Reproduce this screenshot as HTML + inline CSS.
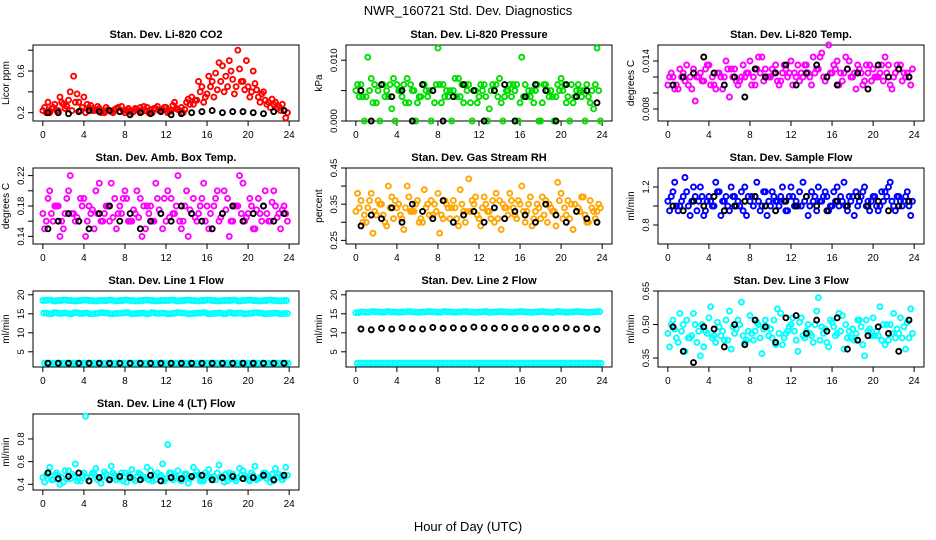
<!DOCTYPE html>
<html><head><meta charset="utf-8"><style>
body{margin:0;background:#fff}
svg{display:block;font-family:"Liberation Sans",sans-serif}
</style></head><body>
<svg id="chart" width="936" height="540" viewBox="0 0 936 540">
<text x="468" y="15" text-anchor="middle" font-size="13">NWR_160721 Std. Dev. Diagnostics</text>
<text x="468" y="531" text-anchor="middle" font-size="13">Hour of Day (UTC)</text>
</svg>
<script>
const xTicks = [0,4,8,12,16,20,24];
const titles = ["Stan. Dev. Li-820 CO2","Stan. Dev. Li-820 Pressure","Stan. Dev. Li-820 Temp.","Stan. Dev. Amb. Box Temp.","Stan. Dev. Gas Stream RH","Stan. Dev. Sample Flow","Stan. Dev. Line 1 Flow","Stan. Dev. Line 2 Flow","Stan. Dev. Line 3 Flow","Stan. Dev. Line 4 (LT) Flow"];
const yLabels = ["Licor ppm","kPa","degrees C","degrees C","percent","ml/min","ml/min","ml/min","ml/min","ml/min"];
const yRanges = [[0.12,0.85],[0,0.0125],[0.0065,0.016],[0.13,0.23],[0.24,0.45],[0.6,1.4],[1,21],[1,21],[0.31,0.65],[0.35,1.02]];
const yTicks = [[0.2,0.4,0.6,0.8],[0,0.005,0.01],[0.008,0.010,0.012,0.014],[0.14,0.16,0.18,0.20,0.22],[0.25,0.30,0.35,0.40,0.45],[0.8,1.0,1.2],[5,10,15,20],[5,10,15,20],[0.35,0.50,0.65],[0.4,0.6,0.8]];
const yTickLabels = [["0.2","","0.6",""],["0.000","","0.010"],["0.008","","","0.014"],["0.14","","0.18","","0.22"],["0.25","","0.35","","0.45"],["0.8","","1.2"],["5","10","15","20"],["5","10","15","20"],["0.35","0.50","0.65"],["0.4","0.6","0.8"]];
const colors = ["#ff0000","#00dd00","#ff00ff","#ff00ff","#ffa500","#0000ff","#00ffff","#00ffff","#00ffff","#00ffff"];
// colored series (every 0.5 h)
const co2 = [0.22,0.3,0.25,0.22,0.28,0.32,0.55,0.3,0.35,0.25,0.22,0.24,0.2,0.22,0.23,0.21,0.2,0.22,0.24,0.25,0.22,0.23,0.24,0.22,0.25,0.22,0.24,0.25,0.3,0.35,0.32,0.45,0.38,0.5,0.42,0.65,0.45,0.52,0.8,0.5,0.45,0.6,0.35,0.4,0.3,0.28,0.26,0.22];
const co2b = [0.25,0.2,0.28,0.35,0.24,0.4,0.3,0.22,0.2,0.27,0.23,0.2,0.25,0.21,0.24,0.26,0.22,0.2,0.23,0.21,0.25,0.2,0.26,0.23,0.2,0.27,0.23,0.2,0.33,0.28,0.5,0.3,0.55,0.35,0.68,0.4,0.7,0.38,0.62,0.42,0.35,0.48,0.3,0.32,0.25,0.3,0.22,0.15];
const co2c = [0.2,0.24,0.22,0.3,0.26,0.22,0.38,0.25,0.28,0.22,0.26,0.21,0.23,0.2,0.25,0.22,0.24,0.21,0.22,0.26,0.2,0.24,0.22,0.25,0.21,0.3,0.22,0.23,0.28,0.32,0.4,0.35,0.45,0.58,0.5,0.55,0.6,0.45,0.5,0.7,0.4,0.42,0.38,0.28,0.33,0.24,0.28,0.2];
const pres = [0.005,0.006,0.004,0.007,0.003,0.006,0.005,0.002,0.006,0.004,0.007,0.005,0.003,0.006,0.004,0.005,0.012,0.006,0.004,0.005,0.007,0.003,0.006,0.005,0.004,0.006,0.002,0.005,0.007,0.004,0.006,0.005,0.003,0.006,0.004,0.005,0.0,0.006,0.005,0.004,0.007,0.003,0.006,0.005,0.004,0.006,0.005,0.012];
const presb = [0.006,0.004,0.0105,0.003,0.005,0.006,0.004,0.007,0.005,0.006,0.003,0.005,0.004,0.006,0.005,0.003,0.006,0.004,0.005,0.007,0.004,0.006,0.003,0.005,0.006,0.004,0.005,0.006,0.003,0.005,0.004,0.006,0.0105,0.004,0.005,0.006,0.003,0.005,0.004,0.006,0.005,0.004,0.003,0.006,0.005,0.004,0.002,0.005];
const presc = [0.004,0.0,0.005,0.006,0.0,0.004,0.006,0.0,0.005,0.003,0.006,0.0,0.004,0.005,0.0,0.006,0.003,0.005,0.0,0.004,0.006,0.005,0.0,0.003,0.005,0.0,0.006,0.004,0.0,0.005,0.006,0.0,0.004,0.005,0.003,0.0,0.006,0.004,0.0,0.005,0.006,0.0,0.004,0.005,0.0,0.003,0.006,0.0];
const ltemp = [0.011,0.012,0.0105,0.0125,0.011,0.013,0.012,0.0115,0.0135,0.011,0.0125,0.012,0.0095,0.013,0.0115,0.012,0.014,0.011,0.0125,0.013,0.012,0.0135,0.0115,0.013,0.014,0.012,0.0125,0.0135,0.011,0.013,0.015,0.012,0.0125,0.014,0.0115,0.013,0.012,0.0135,0.011,0.0125,0.013,0.012,0.0115,0.0135,0.012,0.013,0.0125,0.012];
const ltempb = [0.012,0.0105,0.013,0.0115,0.012,0.009,0.0125,0.013,0.011,0.0105,0.012,0.014,0.013,0.0115,0.012,0.0125,0.011,0.013,0.0145,0.012,0.013,0.0115,0.0125,0.012,0.011,0.0135,0.012,0.0125,0.0145,0.013,0.012,0.016,0.0135,0.011,0.0125,0.014,0.0125,0.013,0.0115,0.0135,0.012,0.0125,0.0145,0.011,0.0125,0.0135,0.012,0.011];
const ltempc = [0.0125,0.011,0.012,0.0135,0.0105,0.012,0.0115,0.0135,0.012,0.0125,0.0105,0.013,0.012,0.011,0.0135,0.0125,0.012,0.0145,0.0115,0.012,0.0125,0.011,0.0135,0.0125,0.0125,0.0115,0.0135,0.012,0.0125,0.0145,0.0115,0.0125,0.013,0.0125,0.0145,0.012,0.0105,0.0125,0.0135,0.0115,0.012,0.0135,0.0125,0.0105,0.0135,0.0115,0.0125,0.013];
const amb = [0.17,0.19,0.16,0.18,0.15,0.2,0.17,0.16,0.19,0.18,0.15,0.21,0.17,0.16,0.19,0.18,0.2,0.16,0.17,0.19,0.15,0.18,0.21,0.17,0.16,0.19,0.18,0.15,0.2,0.17,0.16,0.19,0.18,0.15,0.2,0.17,0.19,0.16,0.18,0.21,0.17,0.15,0.19,0.18,0.16,0.2,0.17,0.18];
const ambb = [0.15,0.2,0.18,0.14,0.17,0.22,0.16,0.19,0.14,0.17,0.2,0.16,0.18,0.21,0.15,0.17,0.19,0.16,0.2,0.14,0.18,0.16,0.19,0.15,0.2,0.17,0.22,0.16,0.14,0.19,0.17,0.21,0.15,0.18,0.16,0.2,0.14,0.18,0.22,0.16,0.19,0.15,0.17,0.2,0.16,0.18,0.15,0.17];
const ambc = [0.16,0.17,0.18,0.16,0.19,0.17,0.165,0.18,0.16,0.175,0.17,0.16,0.18,0.165,0.17,0.19,0.16,0.175,0.165,0.18,0.17,0.16,0.175,0.19,0.165,0.17,0.16,0.18,0.175,0.165,0.18,0.16,0.17,0.19,0.165,0.175,0.16,0.18,0.17,0.165,0.18,0.175,0.16,0.17,0.185,0.165,0.175,0.16];
const rh = [0.33,0.36,0.3,0.38,0.32,0.35,0.29,0.37,0.34,0.31,0.4,0.33,0.36,0.3,0.35,0.32,0.38,0.31,0.34,0.36,0.29,0.33,0.42,0.35,0.31,0.37,0.33,0.3,0.36,0.34,0.38,0.32,0.35,0.3,0.37,0.33,0.31,0.36,0.34,0.29,0.38,0.32,0.35,0.33,0.37,0.3,0.34,0.33];
const rhb = [0.38,0.3,0.34,0.27,0.36,0.32,0.4,0.31,0.35,0.28,0.37,0.33,0.3,0.39,0.32,0.35,0.27,0.36,0.31,0.34,0.39,0.3,0.33,0.37,0.29,0.35,0.31,0.38,0.28,0.34,0.36,0.31,0.4,0.33,0.29,0.35,0.37,0.3,0.33,0.41,0.31,0.36,0.28,0.34,0.37,0.3,0.33,0.35];
const rhc = [0.34,0.32,0.36,0.33,0.35,0.3,0.34,0.36,0.32,0.34,0.33,0.35,0.31,0.34,0.36,0.33,0.32,0.35,0.34,0.31,0.35,0.33,0.36,0.32,0.34,0.33,0.36,0.31,0.35,0.32,0.34,0.36,0.33,0.35,0.31,0.34,0.32,0.35,0.33,0.36,0.34,0.31,0.35,0.33,0.32,0.36,0.31,0.34];
const flow = [1.05,1.15,0.95,1.1,1.0,1.2,1.05,0.9,1.1,1.0,1.15,1.05,0.95,1.1,1.0,1.2,1.05,1.1,0.95,1.15,1.0,1.05,1.1,0.95,1.2,1.05,1.0,1.1,1.15,0.95,1.05,1.1,1.0,1.2,1.05,0.95,1.1,1.0,1.15,1.05,1.1,0.95,1.05,1.2,1.0,1.1,1.05,1.0];
const flowb = [0.95,1.25,1.0,1.3,0.9,1.1,1.2,0.95,1.05,1.25,0.9,1.1,1.2,1.0,1.15,0.9,1.1,1.25,1.0,0.9,1.15,1.05,1.2,0.95,1.1,1.0,1.25,0.9,1.05,1.2,1.1,0.95,1.15,1.0,1.25,1.1,0.9,1.05,1.2,0.95,1.1,1.0,1.15,1.25,0.95,1.05,1.1,0.9];
const flowc = [1.1,1.0,1.05,1.15,1.05,0.95,1.1,1.05,1.0,1.15,1.05,1.0,1.1,1.05,0.95,1.1,1.0,1.05,1.15,1.05,1.1,1.0,1.05,1.1,1.0,1.15,1.05,1.0,1.1,1.05,1.15,1.0,1.05,1.1,1.0,1.05,1.15,1.1,1.0,1.05,1.0,1.15,1.1,1.05,1.1,1.0,1.15,1.05];
const l1a = [18.5,18.6,18.4,18.5,18.6,18.5,18.4,18.5,18.6,18.5,18.4,18.5,18.5,18.6,18.4,18.5,18.6,18.5,18.4,18.5,18.6,18.5,18.4,18.5,18.5,18.6,18.4,18.5,18.6,18.5,18.4,18.5,18.6,18.5,18.4,18.5,18.5,18.6,18.4,18.5,18.6,18.5,18.4,18.5,18.6,18.5,18.4,18.5];
const l1b = [15.2,15.0,15.3,15.1,15.2,15.0,15.3,15.1,15.2,15.0,15.1,15.3,15.2,15.0,15.1,15.2,15.3,15.0,15.1,15.2,15.0,15.3,15.1,15.2,15.0,15.1,15.3,15.2,15.0,15.1,15.2,15.3,15.0,15.1,15.2,15.0,15.3,15.1,15.2,15.0,15.1,15.3,15.2,15.0,15.1,15.2,15.0,15.1];
const l1c = [2,2,2,2,2,2,2,2,2,2,2,2,2,2,2,2,2,2,2,2,2,2,2,2,2,2,2,2,2,2,2,2,2,2,2,2,2,2,2,2,2,2,2,2,2,2,2,2];
const l2a = [15.3,15.5,15.4,15.6,15.5,15.4,15.6,15.5,15.4,15.5,15.6,15.5,15.4,15.5,15.6,15.5,15.4,15.6,15.5,15.4,15.5,15.6,15.5,15.4,15.5,15.6,15.4,15.5,15.6,15.5,15.4,15.5,15.6,15.5,15.4,15.5,15.6,15.5,15.4,15.6,15.5,15.4,15.5,15.6,15.5,15.4,15.5,15.6];
const l2b = [2,2,2,2,2,2,2,2,2,2,2,2,2,2,2,2,2,2,2,2,2,2,2,2,2,2,2,2,2,2,2,2,2,2,2,2,2,2,2,2,2,2,2,2,2,2,2,2];
const l3 = [0.46,0.52,0.42,0.5,0.44,0.55,0.47,0.4,0.53,0.45,0.49,0.43,0.56,0.46,0.5,0.42,0.54,0.47,0.44,0.52,0.48,0.41,0.55,0.46,0.5,0.43,0.53,0.47,0.45,0.56,0.49,0.42,0.51,0.46,0.54,0.44,0.48,0.52,0.41,0.47,0.53,0.45,0.5,0.43,0.55,0.46,0.49,0.44];
const l3b = [0.4,0.48,0.55,0.38,0.44,0.5,0.36,0.47,0.58,0.42,0.45,0.52,0.39,0.48,0.6,0.43,0.46,0.51,0.37,0.49,0.44,0.57,0.41,0.47,0.53,0.38,0.45,0.5,0.42,0.62,0.46,0.4,0.49,0.55,0.39,0.47,0.43,0.52,0.36,0.48,0.45,0.58,0.41,0.5,0.44,0.53,0.39,0.57];
const l3c = [0.5,0.44,0.47,0.52,0.45,0.42,0.5,0.46,0.44,0.51,0.47,0.43,0.49,0.52,0.45,0.47,0.43,0.5,0.48,0.45,0.52,0.46,0.44,0.49,0.47,0.51,0.44,0.46,0.5,0.43,0.48,0.52,0.45,0.47,0.5,0.44,0.46,0.49,0.52,0.45,0.47,0.43,0.5,0.46,0.48,0.44,0.51,0.46];
const l4 = [0.46,0.5,0.44,0.48,0.42,0.52,0.47,0.45,0.5,0.43,0.49,0.46,0.51,0.44,0.48,0.45,0.5,0.47,0.43,0.49,0.46,0.52,0.44,0.48,0.45,0.5,0.47,0.43,0.49,0.46,0.51,0.44,0.48,0.45,0.5,0.47,0.43,0.49,0.46,0.52,0.44,0.48,0.45,0.5,0.47,0.43,0.49,0.46];
const l4b = [0.42,0.55,0.48,0.4,0.52,0.45,0.58,0.43,1.0,0.47,0.54,0.41,0.49,0.56,0.44,0.5,0.42,0.53,0.47,0.45,0.55,0.43,0.5,0.58,0.75,0.44,0.52,0.46,0.41,0.55,0.48,0.43,0.53,0.47,0.57,0.42,0.5,0.45,0.54,0.48,0.43,0.56,0.46,0.5,0.42,0.54,0.47,0.55];
const l4c = [0.48,0.44,0.5,0.46,0.45,0.49,0.43,0.48,0.46,0.5,0.44,0.47,0.45,0.5,0.46,0.43,0.48,0.45,0.5,0.46,0.44,0.48,0.47,0.43,0.5,0.46,0.44,0.49,0.45,0.48,0.43,0.5,0.46,0.44,0.47,0.49,0.45,0.43,0.48,0.46,0.5,0.44,0.47,0.45,0.49,0.46,0.44,0.48];
// black series (hourly, at h+0.5)
const k1 = [0.2,0.2,0.19,0.21,0.22,0.21,0.22,0.21,0.18,0.2,0.19,0.21,0.18,0.19,0.2,0.21,0.22,0.2,0.21,0.21,0.2,0.19,0.21,0.22];
const k2 = [0.005,0.0,0.006,0.004,0.005,0.0,0.006,0.005,0.0,0.004,0.006,0.005,0.0,0.005,0.006,0.0,0.004,0.006,0.005,0.0,0.006,0.004,0.005,0.003];
const k3 = [0.011,0.012,0.0125,0.0145,0.0125,0.011,0.012,0.0095,0.013,0.012,0.0125,0.0135,0.011,0.0125,0.0135,0.012,0.011,0.013,0.0125,0.0105,0.0135,0.012,0.013,0.012];
const k4 = [0.15,0.16,0.17,0.16,0.15,0.17,0.18,0.16,0.17,0.15,0.16,0.17,0.16,0.18,0.17,0.16,0.15,0.17,0.18,0.16,0.17,0.18,0.16,0.17];
const k5 = [0.29,0.32,0.31,0.34,0.3,0.35,0.33,0.31,0.36,0.3,0.32,0.33,0.3,0.34,0.31,0.33,0.32,0.3,0.35,0.32,0.3,0.33,0.31,0.3];
const k6 = [1.0,0.95,1.05,1.0,1.1,0.95,1.0,1.05,1.1,1.0,0.95,1.05,1.0,1.1,1.0,0.95,1.05,1.0,1.1,1.0,1.05,0.95,1.0,1.05];
const k7 = [2,2,2,2,2,2,2,2,2,2,2,2,2,2,2,2,2,2,2,2,2,2,2,2];
const k8 = [11,10.8,11.2,11.0,11.3,11.1,11.0,11.4,11.2,11.3,11.1,11.5,11.3,11.2,11.4,11.1,11.3,11.0,11.2,11.1,11.3,11.0,11.2,10.9];
const k9 = [0.49,0.38,0.33,0.49,0.48,0.4,0.5,0.41,0.52,0.49,0.42,0.53,0.54,0.46,0.52,0.47,0.53,0.39,0.43,0.45,0.49,0.46,0.38,0.52];
const k10 = [0.5,0.45,0.47,0.5,0.43,0.46,0.44,0.47,0.46,0.44,0.48,0.43,0.46,0.45,0.47,0.48,0.44,0.46,0.47,0.45,0.46,0.48,0.44,0.48];
const colored = [[co2,co2b,co2c],[pres,presb,presc],[ltemp,ltempb,ltempc],[amb,ambb,ambc],[rh,rhb,rhc],[flow,flowb,flowc],[l1a,l1b,l1c,l1a,l1b,l1c],[l2a,l2b,l2a,l2b],[l3,l3b,l3c],[l4,l4b,l4c]];
const blacks = [k1,k2,k3,k4,k5,k6,k7,k8,k9,k10];

const NS = "http://www.w3.org/2000/svg";
const svg = document.getElementById('chart');
function mk(tag, attrs, parent){const e=document.createElementNS(NS,tag);for(const k in attrs)e.setAttribute(k,attrs[k]);(parent||svg).appendChild(e);return e;}
const colLeft=[33,346,658], plotW=266, rowTop=[45,168,291,414], plotH=76;
for(let p=0;p<10;p++){
  const L=colLeft[p%3], T=rowTop[Math.floor(p/3)];
  const g=mk('g',{});
  
  
  const [y0,y1]=yRanges[p];
  const xs=h=>L+plotW*((h+0.96)/25.92);
  const ys=v=>T+plotH-plotH*((v-y0)/(y1-y0));
  const fr=mk('rect',{x:L,y:T,width:plotW,height:plotH,fill:'none',stroke:'#000','stroke-width':1},g);
  
  
  const t=mk('text',{x:L+plotW/2,y:T-7,'text-anchor':'middle','font-size':11,'font-weight':'bold'},g);
  t.textContent=titles[p];
  
  
  const yl=mk('text',{x:L-24,y:T+plotH/2,'text-anchor':'middle','font-size':10,transform:`rotate(-90 ${L-24} ${T+plotH/2})`},g);
  yl.textContent=yLabels[p];
  
  
  xTicks.forEach(h=>{
    const x=xs(h);
    mk('line',{x1:x,x2:x,y1:T+plotH,y2:T+plotH+5,stroke:'#000'},g);
    const tl=mk('text',{x:x,y:T+plotH+17,'text-anchor':'middle','font-size':10},g);
    tl.textContent=h;
    
    
  });
  yTicks[p].forEach((v,i)=>{
    const y=ys(v);
    mk('line',{x1:L-5,x2:L,y1:y,y2:y,stroke:'#000'},g);
    const lab=yTickLabels[p][i];
    if(lab){
      const tl=mk('text',{x:L-9,y:y,'text-anchor':'middle','font-size':9.5,transform:`rotate(-90 ${L-9} ${y})`},g);
      tl.textContent=lab;
      
      
    }
  });
  const n=colored[p].length;
  colored[p].forEach((arr,si)=>{
    arr.forEach((v,i)=>{
      const c=mk('circle',{cx:xs(i*0.5+si*0.5/n),cy:ys(v),r:2.5,fill:'none',stroke:colors[p],'stroke-width':1.9},g);
      
      
    });
  });
  blacks[p].forEach((v,i)=>{
    const c=mk('circle',{cx:xs(i+0.5),cy:ys(v),r:2.5,fill:'none',stroke:'#000','stroke-width':1.9},g);
    
    
  });
}
</script>
</body></html>
